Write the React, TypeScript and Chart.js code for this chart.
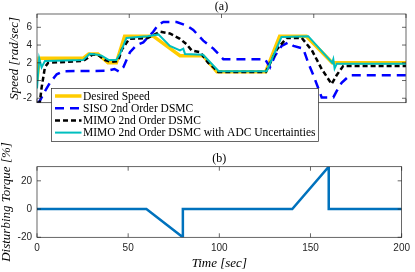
import React, { useEffect, useRef } from "react";
import { Chart, registerables } from "chart.js";
Chart.register(...registerables);

// ---------- data (a) ----------
const desiredTime = [0, 1.2, 25, 28, 33, 38.5, 43, 47.5, 63, 77.5, 90, 97.5, 124, 131.5, 146, 160, 200];
const desiredSpeed = [0, 2.5, 2.5, 3.0, 3.0, 2.0, 2.0, 5.0, 5.0, 2.8, 2.8, 1.0, 1.0, 5.0, 5.0, 2.0, 2.0];

const sisoTime = [0, 1, 4.3, 7, 10.7, 14.3, 38, 42, 44.5, 46.8, 50.4, 54, 57.6, 63, 65.8, 68.5, 75.7, 81.1, 84.7, 90.1, 95.6, 101, 123.6, 126.3, 129, 132.6, 136.2, 139, 144.3, 147, 149.8, 152.5, 154.3, 160.6, 162.4, 165.1, 169.6, 200];
const sisoSpeed = [-2.5, -2.5, -1.2, -0.25, 0.7, 1.05, 1.1, 1.3, 1.0, 1.5, 3.2, 4.0, 4.3, 5.5, 6.3, 6.6, 6.6, 6.2, 5.7, 4.5, 3.6, 2.4, 2.4, 1.5, 2.8, 3.9, 4.3, 3.9, 3.6, 2.0, 0.6, -0.9, -1.9, -1.9, -1.2, -0.25, 0.6, 0.6];

const mimoTime = [0, 1.5, 2.5, 4.3, 6.1, 25, 30, 33, 37, 40, 44, 46, 50, 60, 66.7, 72, 77.5, 81, 83.8, 88.3, 92.8, 95.6, 98.3, 124, 130, 135.3, 143.5, 149, 154.3, 159.7, 162.4, 166, 200];
const mimoSpeed = [-2.5, -2.5, -0.8, 1.5, 2.0, 2.2, 2.9, 2.9, 2.3, 2.1, 2.2, 3.5, 4.7, 4.8, 5.5, 5.3, 4.7, 4.1, 3.4, 3.2, 2.0, 1.5, 0.95, 0.95, 3.5, 4.8, 4.8, 3.4, 1.3, -0.4, 0.6, 1.65, 1.65];

const adcTime = [0, 1.2, 2.5, 4.3, 25, 28.5, 33, 35, 39, 43, 45, 48.5, 60, 65.8, 72, 77.5, 79.3, 80.2, 90, 98.5, 124.5, 132.5, 147, 160, 160.6, 161.3, 162.5, 200];
const adcSpeed = [-0.9, 2.5, 1.5, 2.2, 2.3, 3.0, 2.9, 2.8, 2.3, 2.3, 3.0, 4.8, 5.0, 5.2, 3.9, 3.4, 3.6, 3.0, 2.9, 1.05, 1.05, 4.9, 5.0, 2.0, 2.4, 1.35, 1.9, 1.9];

const speedTicks = [-2, 0, 2, 4, 6];

// ---------- data (b) ----------
const torqueTime = [0, 60, 80, 80, 140, 160, 160, 200];
const torqueValue = [0, 0, -20, 0, 0, 30, 0, 0];
const torqueTicks = [-20, 0, 20];

const timeTicks = [0, 50, 100, 150, 200];

const legendLabels = [
  "Desired Speed",
  "SISO 2nd Order DSMC",
  "MIMO 2nd Order DSMC",
  "MIMO 2nd Order DSMC with ADC Uncertainties",
];

const toPts = (t: number[], v: number[]) => t.map((x, i) => ({ x, y: v[i] }));

const AXIS_COLOR = "#262626";
const TICK_FONT = { family: "'Liberation Sans', Arial, sans-serif", size: 10 };
const TITLE_FONT = { family: "'Liberation Serif', serif", size: 13, style: "italic" as const, lineHeight: 1 };

const styles = [
  { color: "#FFCC00", width: 3.5, dash: [] as number[] },
  { color: "#0000FF", width: 2.5, dash: [9, 6] },
  { color: "#000000", width: 2.5, dash: [5, 3] },
  { color: "#00BFBF", width: 2, dash: [] as number[] },
];

const framePlugin = {
  id: "frame",
  afterDraw(chart: any, _args: any, opts: any) {
    const { ctx, chartArea } = chart;
    const { left, right, top, bottom } = chartArea;
    const xs = chart.scales.x;
    const ys = chart.scales.y;
    ctx.save();
    ctx.strokeStyle = AXIS_COLOR;
    ctx.lineWidth = 0.7;
    ctx.setLineDash([]);
    ctx.strokeRect(left, top, right - left, bottom - top);
    const tl = 4;
    ctx.beginPath();
    xs.ticks.forEach((t: any) => {
      const px = xs.getPixelForValue(t.value);
      ctx.moveTo(px, bottom);
      ctx.lineTo(px, bottom - tl);
      ctx.moveTo(px, top);
      ctx.lineTo(px, top + tl);
    });
    ys.ticks.forEach((t: any) => {
      const py = ys.getPixelForValue(t.value);
      ctx.moveTo(left, py);
      ctx.lineTo(left + tl, py);
      ctx.moveTo(right, py);
      ctx.lineTo(right - tl, py);
    });
    ctx.stroke();
    ctx.fillStyle = "#000";
    ctx.font = "12px 'Liberation Serif', serif";
    ctx.textAlign = "center";
    ctx.textBaseline = "middle";
    ctx.fillText(opts.title, (left + right) / 2, top - 7.5);

    if (opts.legend) {
      const bx = 51.5;
      const by = 88.5;
      const rowH = 12.2;
      const textX = 83;
      ctx.font = "11.5px 'Liberation Serif', serif";
      let maxW = 0;
      legendLabels.forEach((l) => (maxW = Math.max(maxW, ctx.measureText(l).width)));
      const bw = textX + maxW + 3 - bx;
      const bh = 53;
      ctx.fillStyle = "#fff";
      ctx.fillRect(bx, by, bw, bh);
      ctx.strokeStyle = AXIS_COLOR;
      ctx.lineWidth = 0.7;
      ctx.strokeRect(bx, by, bw, bh);
      legendLabels.forEach((l, i) => {
        const y = by + 7.5 + i * rowH;
        const s = styles[i];
        ctx.beginPath();
        ctx.strokeStyle = s.color;
        ctx.lineWidth = s.width;
        ctx.setLineDash(s.dash);
        ctx.moveTo(55, y);
        ctx.lineTo(81.5, y);
        ctx.stroke();
        ctx.setLineDash([]);
        ctx.fillStyle = "#000";
        ctx.textAlign = "left";
        ctx.textBaseline = "middle";
        ctx.fillText(l, textX, y + 0.5);
      });
    }
    ctx.restore();
  },
};

const setTicks = (vals: number[]) => (s: any) => {
  s.ticks = vals.map((v) => ({ value: v }));
};

export default function App() {
  const topRef = useRef<HTMLCanvasElement>(null);
  const botRef = useRef<HTMLCanvasElement>(null);

  useEffect(() => {
    document.body.style.margin = "0";
    const series = [
      { t: desiredTime, v: desiredSpeed },
      { t: sisoTime, v: sisoSpeed },
      { t: mimoTime, v: mimoSpeed },
      { t: adcTime, v: adcSpeed },
    ];
    const c1 = new Chart(topRef.current!, {
      type: "line",
      data: {
        datasets: series.map((s, i) => ({
          label: legendLabels[i],
          data: toPts(s.t, s.v),
          borderColor: styles[i].color,
          borderWidth: styles[i].width,
          borderDash: styles[i].dash,
          pointRadius: 0,
          tension: 0,
          fill: false,
          order: 4 - i,
        })),
      },
      options: {
        responsive: false,
        animation: false,
        events: [],
        layout: { padding: { left: 0, right: 9, top: 14, bottom: 47.3 } },
        plugins: {
          legend: { display: false },
          tooltip: { enabled: false },
          frame: { title: "(a)", legend: true },
        } as any,
        scales: {
          x: {
            type: "linear",
            min: 0,
            max: 200,
            grid: { display: false, drawTicks: false },
            border: { display: false },
            ticks: { display: false },
            afterBuildTicks: setTicks(timeTicks),
            afterFit: (s: any) => {
              s.height = 0;
            },
          },
          y: {
            type: "linear",
            min: -2.5,
            max: 7.5,
            grid: { display: false, drawTicks: false },
            border: { display: false },
            ticks: { padding: 5, font: TICK_FONT, color: AXIS_COLOR },
            afterBuildTicks: setTicks(speedTicks),
            afterFit: (s: any) => {
              s.width = 37;
            },
            title: {
              display: true,
              text: "Speed [rad/sec]",
              font: TITLE_FONT,
              color: "#000",
              padding: { top: 8, bottom: 0 },
            },
          },
        },
      },
      plugins: [framePlugin],
    });

    const c2 = new Chart(botRef.current!, {
      type: "line",
      data: {
        datasets: [
          {
            label: "Disturbing Torque",
            data: toPts(torqueTime, torqueValue),
            borderColor: "#0072BD",
            borderWidth: 2.5,
            pointRadius: 0,
            tension: 0,
            fill: false,
          },
        ],
      },
      options: {
        responsive: false,
        animation: false,
        events: [],
        layout: { padding: { left: 0, right: 9, top: 36.7, bottom: 0 } },
        plugins: {
          legend: { display: false },
          tooltip: { enabled: false },
          frame: { title: "(b)", legend: false },
        } as any,
        scales: {
          x: {
            type: "linear",
            min: 0,
            max: 200,
            grid: { display: false, drawTicks: false },
            border: { display: false },
            ticks: { padding: 5, font: TICK_FONT, color: AXIS_COLOR, maxRotation: 0 },
            afterBuildTicks: setTicks(timeTicks),
            afterFit: (s: any) => {
              s.height = 34.7;
            },
            title: {
              display: true,
              text: "Time [sec]",
              font: TITLE_FONT,
              color: "#000",
              padding: { top: 0, bottom: 1.5 },
            },
          },
          y: {
            type: "linear",
            min: -20,
            max: 30,
            grid: { display: false, drawTicks: false },
            border: { display: false },
            ticks: { padding: 5, font: TICK_FONT, color: AXIS_COLOR },
            afterBuildTicks: setTicks(torqueTicks),
            afterFit: (s: any) => {
              s.width = 37;
            },
            title: {
              display: true,
              text: "Disturbing Torque [%]",
              font: TITLE_FONT,
              color: "#000",
              padding: { top: 0.5, bottom: 0 },
            },
          },
        },
      },
      plugins: [framePlugin],
    });

    return () => {
      c1.destroy();
      c2.destroy();
    };
  }, []);

  return (
    <div style={{ position: "relative", width: 415, height: 272, background: "#fff", overflow: "hidden" }}>
      <canvas ref={topRef} width={415} height={150} style={{ position: "absolute", left: 0, top: 0, display: "block" }} />
      <canvas ref={botRef} width={415} height={142} style={{ position: "absolute", left: 0, top: 130, display: "block" }} />
    </div>
  );
}
